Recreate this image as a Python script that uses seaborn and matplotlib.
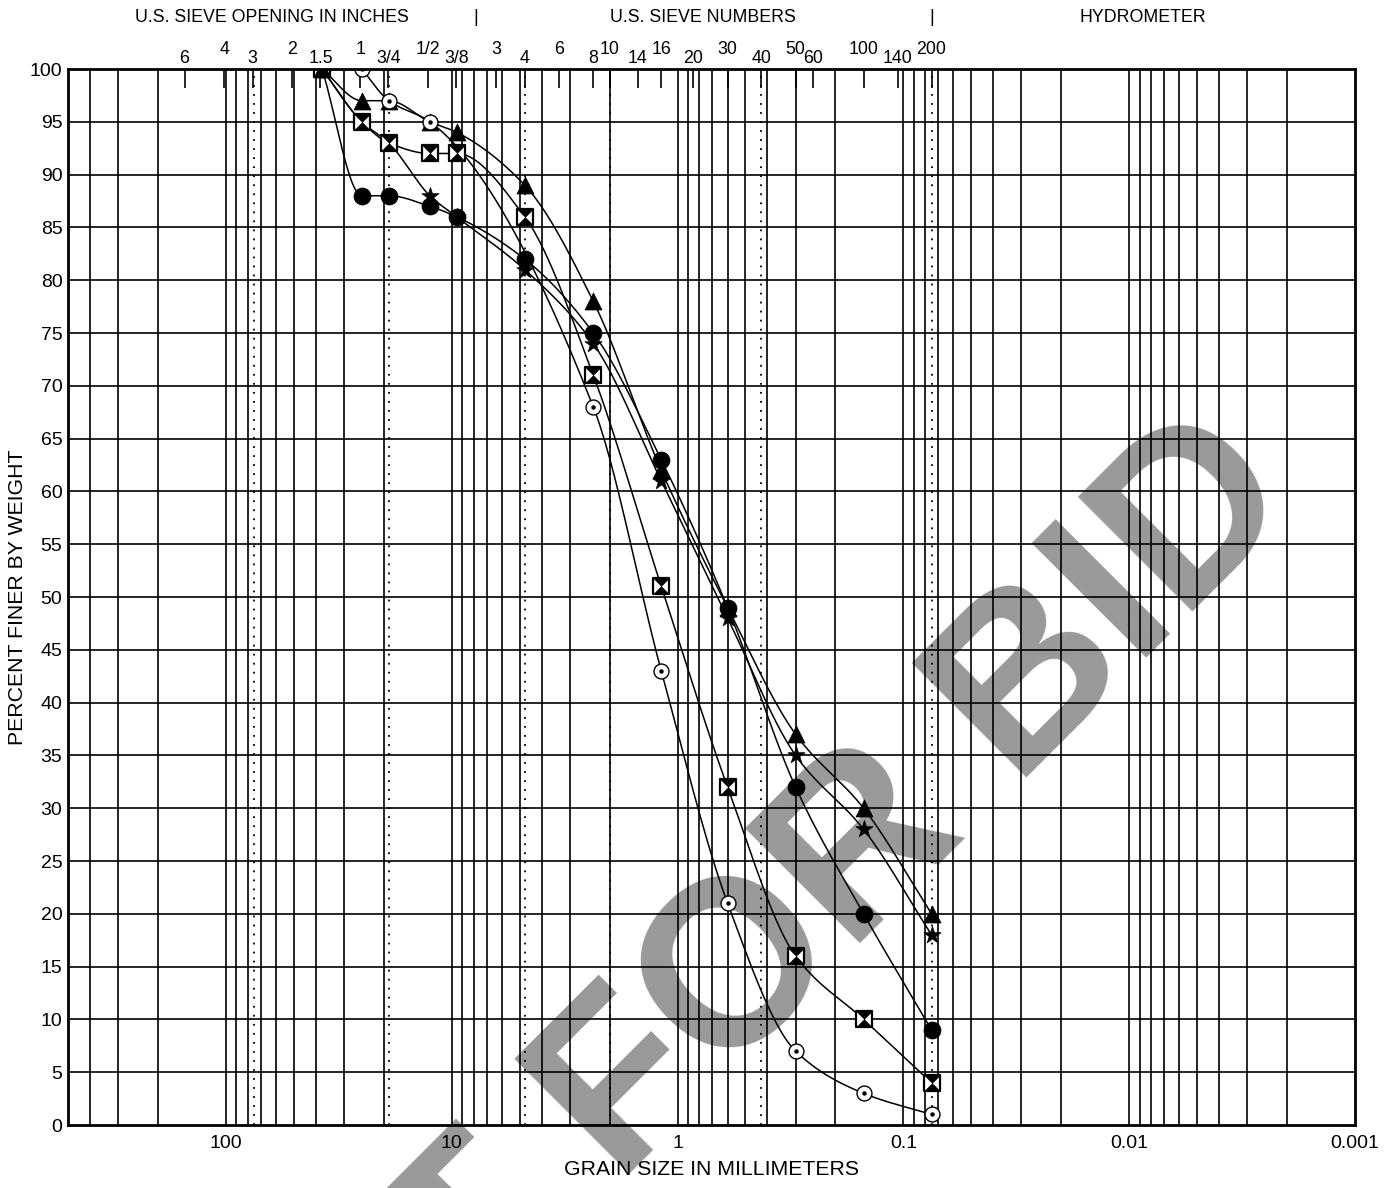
import numpy as np
import matplotlib
matplotlib.use("Agg")
import matplotlib.pyplot as plt
import seaborn as sns
from matplotlib.path import Path

# ---------------- data ----------------
sieve_mm = [37.5, 25.0, 19.0, 12.5, 9.5, 4.75, 2.36, 1.18, 0.6, 0.3, 0.15, 0.075]
circle_dot_mm = [25.0, 19.0, 12.5, 2.36, 1.18, 0.6, 0.3, 0.15, 0.075]
circle_dot_pct = [100, 97, 95, 68, 43, 21, 7, 3, 1]
triangle_pct = [100, 97, 97, 95, 94, 89, 78, 62, 49, 37, 30, 20]
hourglass_pct = [100, 95, 93, 92, 92, 86, 71, 51, 32, 16, 10, 4]
dot_pct = [100, 88, 88, 87, 86, 82, 75, 63, 49, 32, 20, 9]
star_pct = [100, 95, 93, 88, 86, 81, 74, 61, 48, 35, 28, 18]

top_sieve_mm = [152.4, 101.6, 76.2, 50.8, 38.1, 25.4, 19.05, 12.7, 9.525, 6.35,
                4.75, 3.35, 2.36, 2.0, 1.5, 1.18, 0.85, 0.6, 0.425, 0.3, 0.25,
                0.15, 0.106, 0.075]
top_sieve_labels = ['6', '4', '3', '2', '1.5', '1', '3/4', '1/2', '3/8', '3',
                    '4', '6', '8', '10', '14', '16', '20', '30', '40', '50', '60',
                    '100', '140', '200']
boundary_mm = [75, 19, 4.75, 2.0, 0.425, 0.075]
x_ticks = [100, 10, 1, 0.1, 0.01, 0.001]
x_tick_labels = ['100', '10', '1', '0.1', '0.01', '0.001']
y_ticks = list(range(0, 101, 5))
header_texts = ['U.S. SIEVE OPENING IN INCHES', '|', 'U.S. SIEVE NUMBERS', '|', 'HYDROMETER']
watermark_text = 'NOT FOR BID'

# ---------------- style ----------------
sns.set_theme(style="white")
plt.rcParams['font.family'] = ['Liberation Sans', 'DejaVu Sans']
plt.rcParams['axes.unicode_minus'] = False

W, H = 1396, 1188
fig = plt.figure(figsize=(W / 100, H / 100), dpi=100)
L, R, T, B = 68, 1355, 69, 1125
ax = fig.add_axes([L / W, 1 - B / H, (R - L) / W, (B - T) / H])
ax.set_xscale('log')
ax.set_xlim(500, 0.001)
ax.set_ylim(0, 100)

# watermark (under everything in the axes)
ax.text(762 / W, 1 - 1042 / H, watermark_text, transform=fig.transFigure,
        fontsize=169, fontweight='bold', color='#999999', rotation=45,
        rotation_mode='anchor', ha='center', va='baseline', zorder=0.2,
        clip_on=False)

# grid
for v in y_ticks[1:-1]:
    ax.axhline(v, color='black', lw=1.2, zorder=1)
minor = [k * 10.0 ** e for e in range(-3, 3) for k in range(1, 10)]
minor = [m for m in minor if 0.001 < m < 500]
for m in minor:
    ax.axvline(m, color='black', lw=1.2, zorder=1)
for bnd in boundary_mm:
    ax.axvline(bnd, color='black', lw=1.3, linestyle=(0, (1, 4)), zorder=1)

# top sieve ticks and labels
ax.vlines(top_sieve_mm, 100 - 19 / 10.56, 100, color='black', lw=1.2, zorder=1)
for i, (d, lab) in enumerate(zip(top_sieve_mm, top_sieve_labels)):
    off = 10.5 if i % 2 == 1 else 4.3
    ax.annotate(lab, xy=(d, 1), xycoords=('data', 'axes fraction'),
                xytext=(0, off), textcoords='offset points',
                ha='center', va='baseline', fontsize=12.8, color='black')


# smooth monotone curve through points (in log-size space)
def pchip_curve(xd, yd, n=30):
    u = -np.log10(np.asarray(xd, float))
    y = np.asarray(yd, float)
    h = np.diff(u)
    delta = np.diff(y) / h
    m = np.zeros_like(y)
    m[0], m[-1] = delta[0], delta[-1]
    for k in range(1, len(u) - 1):
        if delta[k - 1] * delta[k] <= 0:
            m[k] = 0.0
        else:
            w1 = 2 * h[k] + h[k - 1]
            w2 = h[k] + 2 * h[k - 1]
            m[k] = (w1 + w2) / (w1 / delta[k - 1] + w2 / delta[k])
    us, ys = [], []
    for k in range(len(u) - 1):
        t = np.linspace(0, 1, n)
        h00 = 2 * t**3 - 3 * t**2 + 1
        h10 = t**3 - 2 * t**2 + t
        h01 = -2 * t**3 + 3 * t**2
        h11 = t**3 - t**2
        us.append(u[k] + t * h[k])
        ys.append(h00 * y[k] + h10 * h[k] * m[k] + h01 * y[k + 1] + h11 * h[k] * m[k + 1])
    return 10 ** (-np.concatenate(us)), np.concatenate(ys)


series = [
    (circle_dot_mm, circle_dot_pct),
    (sieve_mm, triangle_pct),
    (sieve_mm, hourglass_pct),
    (sieve_mm, dot_pct),
    (sieve_mm, star_pct),
]
for xs, ys in series:
    cx, cy = pchip_curve(xs, ys)
    sns.lineplot(x=cx, y=cy, ax=ax, color='black', lw=1.1, sort=False,
                 estimator=None, zorder=3)

# markers
hour = Path([(-1, 1), (1, 1), (0, 0), (-1, 1), (-1, -1), (1, -1), (0, 0), (-1, -1)],
            [Path.MOVETO, Path.LINETO, Path.LINETO, Path.CLOSEPOLY,
             Path.MOVETO, Path.LINETO, Path.LINETO, Path.CLOSEPOLY])

sns.scatterplot(x=sieve_mm, y=star_pct, ax=ax, marker='*', s=170, color='black',
                edgecolor='black', linewidth=0.5, zorder=4)
sns.scatterplot(x=sieve_mm, y=dot_pct, ax=ax, marker='o', s=150, color='black',
                edgecolor='black', linewidth=0.5, zorder=4)
sns.scatterplot(x=sieve_mm, y=hourglass_pct, ax=ax, marker='s', s=125, color='white',
                edgecolor='black', linewidth=1.6, zorder=4)
sns.scatterplot(x=sieve_mm, y=hourglass_pct, ax=ax, marker=hour, s=125, color='black',
                edgecolor='black', linewidth=0.3, zorder=4)
sns.scatterplot(x=sieve_mm, y=triangle_pct, ax=ax, marker='^', s=150, color='black',
                edgecolor='black', linewidth=0.5, zorder=4)
sns.scatterplot(x=circle_dot_mm, y=circle_dot_pct, ax=ax, marker='o', s=115, color='white',
                edgecolor='black', linewidth=1.0, zorder=5)
sns.scatterplot(x=circle_dot_mm, y=circle_dot_pct, ax=ax, marker='o', s=8, color='black',
                edgecolor='black', linewidth=0.3, zorder=5)

# axes, ticks, labels
ax.set_xticks(x_ticks)
ax.set_xticklabels(x_tick_labels)
ax.xaxis.set_minor_locator(matplotlib.ticker.NullLocator())
ax.set_yticks(y_ticks)
ax.set_yticklabels([str(v) for v in y_ticks])
ax.tick_params(axis='both', length=0, labelsize=14, colors='black')
ax.tick_params(axis='x', pad=7)
ax.tick_params(axis='y', pad=4)
ax.set_xlabel('GRAIN SIZE IN MILLIMETERS', fontsize=15.3, color='black', labelpad=6)
ax.set_ylabel('PERCENT FINER BY WEIGHT', fontsize=15.3, color='black', labelpad=2)
for sp in ax.spines.values():
    sp.set_color('black')
    sp.set_linewidth(2.0)
    sp.set_zorder(6)

# header
hx = [272, 476, 703, 932, 1143]
for txt, x in zip(header_texts, hx):
    fig.text(x / W, 1 - 17 / H, txt, ha='center', va='center', fontsize=12.8, color='black')

fig.savefig('out.png', dpi=100, facecolor='white')
